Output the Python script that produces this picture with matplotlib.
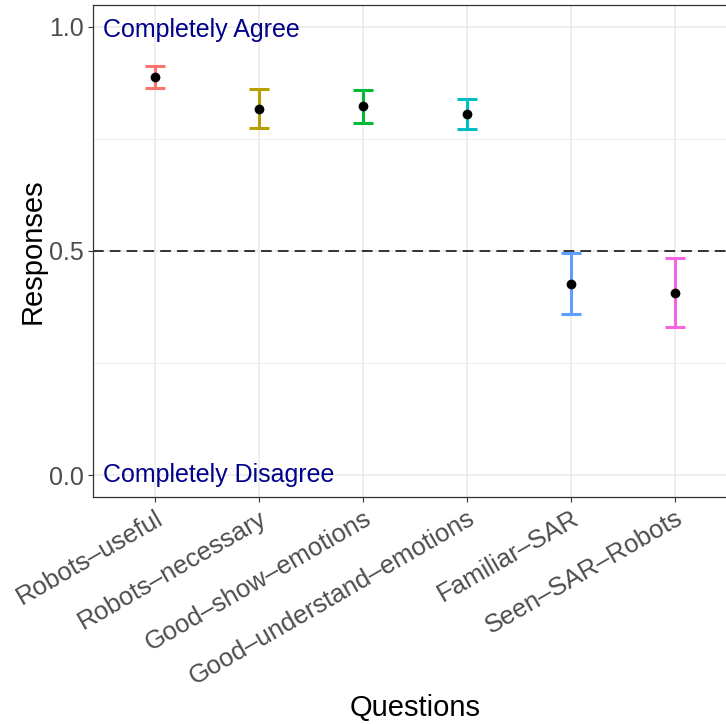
import matplotlib
matplotlib.use("Agg")
import matplotlib.pyplot as plt
import numpy as np

plt.rcParams['font.family'] = ['Liberation Sans', 'DejaVu Sans']

questions = ["Robots–useful", "Robots–necessary", "Good–show–emotions",
             "Good–understand–emotions", "Familiar–SAR", "Seen–SAR–Robots"]
means = [0.888, 0.817, 0.824, 0.806, 0.426, 0.406]
lower = [0.864, 0.775, 0.786, 0.772, 0.359, 0.330]
upper = [0.913, 0.862, 0.859, 0.839, 0.496, 0.484]
colors = ["#F8766D", "#B79F00", "#00BA38", "#00BFC4", "#619CFF", "#F564E3"]
yticks = [0.0, 0.5, 1.0]
ytick_labels = ["0.0", "0.5", "1.0"]

W, H = 726, 724
fig = plt.figure(figsize=(W/100, H/100), dpi=100)
left, right, bottom, top = 93, 737, 497, 5
ax = fig.add_axes([left/W, 1 - bottom/H, (right-left)/W, (bottom-top)/H])

x = np.arange(1, len(questions)+1)
ax.set_xlim(0.4, len(questions)+0.6)
ax.set_ylim(-0.049, 1.049)

# grid
for yv in [0.25, 0.75]:
    ax.axhline(yv, color="#EBEBEB", lw=0.6, zorder=0)
for yv in yticks:
    ax.axhline(yv, color="#EBEBEB", lw=1.2, zorder=0)
for xv in x:
    ax.axvline(xv, color="#EBEBEB", lw=1.2, zorder=0)

ax.axhline(0.5, color="black", lw=1.1, ls=(0, (7, 4)), zorder=1)

for xi, m, lo, hi, c in zip(x, means, lower, upper, colors):
    ax.errorbar([xi], [m], yerr=[[m-lo], [hi-m]], fmt='none', ecolor=c,
                elinewidth=2.2, capsize=7.5, capthick=2.2, zorder=2)
ax.scatter(x, means, color="black", s=36, zorder=3)

ax.annotate("Completely Agree", xy=(0.5, 1.0), xytext=(0, -7.0),
            textcoords="offset points", color="#00008B", fontsize=18,
            ha="left", va="baseline")
ax.annotate("Completely Disagree", xy=(0.5, 0.0), xytext=(0, -4.8),
            textcoords="offset points", color="#00008B", fontsize=18,
            ha="left", va="baseline")

ax.set_xticks(x)
ax.set_xticklabels(questions, rotation=30, ha="right", va="top",
                   rotation_mode="anchor", fontsize=18.5, color="#4D4D4D")
ax.set_yticks(yticks)
ax.set_yticklabels(ytick_labels, fontsize=18, color="#4D4D4D")
ax.tick_params(axis="both", length=3.5, width=0.8, color="#333333", pad=3)

for s in ax.spines.values():
    s.set_color("#333333")
    s.set_linewidth(0.9)

fig.text(415/W, 1 - 708/H, "Questions", fontsize=21, ha="center", va="center")
fig.text(33/W, 1 - 251/H, "Responses", fontsize=21, ha="center", va="center",
         rotation=90)

fig.savefig("out.png", dpi=100)
